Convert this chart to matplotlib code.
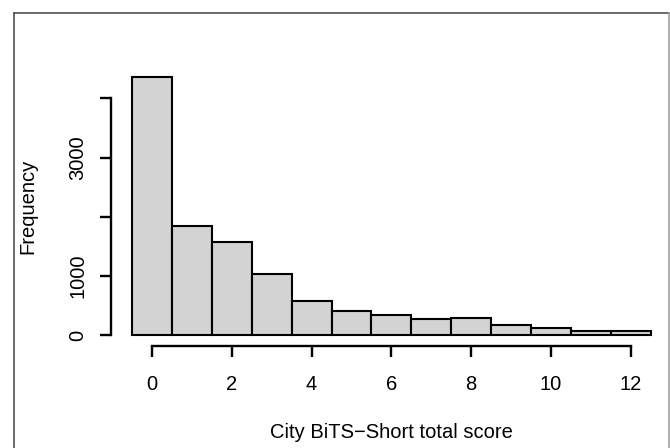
import matplotlib.pyplot as plt
from matplotlib.lines import Line2D

plt.rcParams['font.family'] = ['Liberation Sans', 'DejaVu Sans']

# histogram of City BiTS-Short total score (one bin per integer score)
scores = [0, 1, 2, 3, 4, 5, 6, 7, 8, 9, 10, 11, 12]
counts = [4354, 1850, 1580, 1030, 584, 415, 348, 275, 297, 169, 123, 78, 78]
x_ticks = [0, 2, 4, 6, 8, 10, 12]
y_ticks = [0, 1000, 2000, 3000, 4000]
y_tick_labels = ['0', '1000', '', '3000', '']

W, H = 670, 448
fig = plt.figure(figsize=(W / 100, H / 100), dpi=100)

# plot region in pixels (R style: 4% extension of data range)
left, right, top, bottom = 111.3, 671.5, 67.0, 345.6
ax = fig.add_axes([left / W, 1 - bottom / H, (right - left) / W, (bottom - top) / H])

ax.bar(scores, counts, width=1.0, color='#d3d3d3', edgecolor='black', linewidth=1.5)

xmin, xmax = scores[0] - 0.5, scores[-1] + 0.5
xr = (xmax - xmin) * 0.04
ax.set_xlim(xmin - xr, xmax + xr)
ymax = max(counts)
yr = ymax * 0.04
ax.set_ylim(-yr, ymax + yr)

for s in ['top', 'right']:
    ax.spines[s].set_visible(False)
ax.spines['left'].set_bounds(y_ticks[0], y_ticks[-1])
ax.spines['bottom'].set_bounds(x_ticks[0], x_ticks[-1])
for s in ['left', 'bottom']:
    ax.spines[s].set_linewidth(1.7)
    ax.spines[s].set_color('black')

ax.set_xticks(x_ticks)
ax.set_xticklabels([str(t) for t in x_ticks])
ax.set_yticks(y_ticks)
ax.set_yticklabels(y_tick_labels, rotation=90, va='center')
ax.tick_params(axis='both', length=8, width=1.7, labelsize=14.5, color='black')
ax.tick_params(axis='x', pad=13)
ax.tick_params(axis='y', pad=9)

fig.text(391.4 / W, 1 - 432 / H, 'City BiTS\u2212Short total score',
         ha='center', va='center', fontsize=14.5)
fig.text(27.5 / W, 1 - 206 / H, 'Frequency', rotation=90,
         ha='center', va='center', fontsize=14.5)

# outer frame of the image
fig.add_artist(Line2D([13.5 / W, 13.5 / W], [0, 1 - 13 / H], color='#505050', linewidth=1.2))
fig.add_artist(Line2D([13.5 / W, 669 / W], [1 - 13 / H, 1 - 13 / H], color='#505050', linewidth=1.2))
fig.add_artist(Line2D([669 / W, 669 / W], [0, 1 - 13 / H], color='#a0a0a0', linewidth=1.2))

fig.savefig('out.png', dpi=100)
